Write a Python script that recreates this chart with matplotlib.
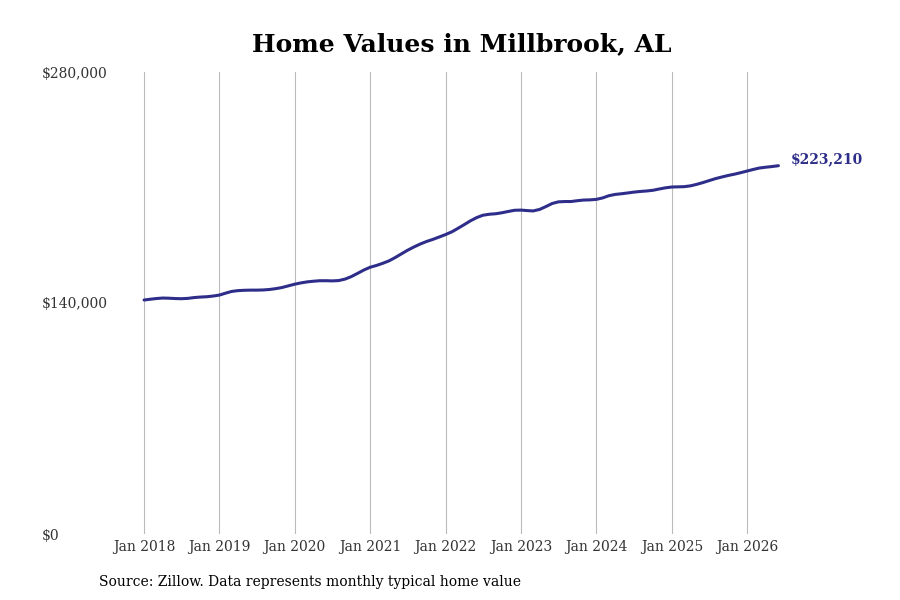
import numpy as np
import matplotlib
matplotlib.use("Agg")
import matplotlib.pyplot as plt
import matplotlib.dates as mdates
import pandas as pd

plt.rcParams['font.family'] = 'DejaVu Serif'

# monthly typical home value, Jan 2018 .. Jun 2026
v2018 = [141800, 142300, 142700, 143000, 142900, 142700, 142600, 142800, 143300, 143600, 143800, 144200]
v2019 = [144800, 146000, 147000, 147500, 147700, 147800, 147800, 147900, 148200, 148700, 149400, 150400]
v2020 = [151400, 152200, 152800, 153200, 153500, 153500, 153400, 153600, 154500, 156000, 158000, 160000]
v2021 = [161700, 162800, 164000, 165500, 167500, 169800, 172000, 174000, 175800, 177300, 178600, 180000]
v2022 = [181500, 183200, 185200, 187500, 189800, 191800, 193200, 193800, 194100, 194700, 195500, 196200]
v2023 = [196300, 196000, 195800, 196700, 198400, 200300, 201300, 201500, 201500, 202000, 202400, 202500]
v2024 = [202800, 203700, 205000, 205800, 206200, 206700, 207200, 207600, 207900, 208300, 209100, 209800]
v2025 = [210300, 210400, 210500, 211000, 211900, 213000, 214200, 215400, 216400, 217300, 218100, 219000]
v2026 = [220000, 221000, 221800, 222300, 222700, 223210]

values = v2018 + v2019 + v2020 + v2021 + v2022 + v2023 + v2024 + v2025 + v2026
dates = pd.date_range('2018-01-01', periods=len(values), freq='MS')

yticks = [0, 140000, 280000]
ytick_labels = ['$0', '$140,000', '$280,000']
xtick_years = list(range(2018, 2027))

line_color = '#2e2e8a'

fig = plt.figure(figsize=(9, 6), dpi=100)
ax = fig.add_axes([110/900, 66/600, 770/900, 462/600])

ax.plot(dates, values, color=line_color, lw=2.2, solid_capstyle='round')

ax.text(dates[-1] + pd.Timedelta(days=60), values[-1], '${:,.0f}'.format(values[-1]),
        color=line_color, fontsize=10, fontweight='bold', va='bottom', ha='left')

ax.set_ylim(0, 280000)
ax.set_yticks(yticks)
ax.set_yticklabels(ytick_labels, ha='left')
ax.tick_params(axis='y', length=0, pad=49, labelsize=10, labelcolor='#333333')

start = pd.Timestamp('2018-01-01')
ax.set_xlim(start - pd.Timedelta(days=165), start + pd.Timedelta(days=9.761 * 365.25))
ax.set_xticks([pd.Timestamp(f'{y}-01-01') for y in xtick_years])
ax.xaxis.set_major_formatter(mdates.DateFormatter('Jan %Y'))
ax.tick_params(axis='x', length=0, pad=4, labelsize=10, labelcolor='#333333')

ax.grid(axis='x', color='#bbbbbb', lw=0.8)
ax.set_axisbelow(True)
for s in ax.spines.values():
    s.set_visible(False)

fig.text(0.513, 0.927, 'Home Values in Millbrook, AL', ha='center', va='center',
         fontsize=18, fontweight='bold')
fig.text(99/900, 1 - 582/600, 'Source: Zillow. Data represents monthly typical home value',
         ha='left', va='center', fontsize=10)

fig.savefig('out.png', dpi=100)
